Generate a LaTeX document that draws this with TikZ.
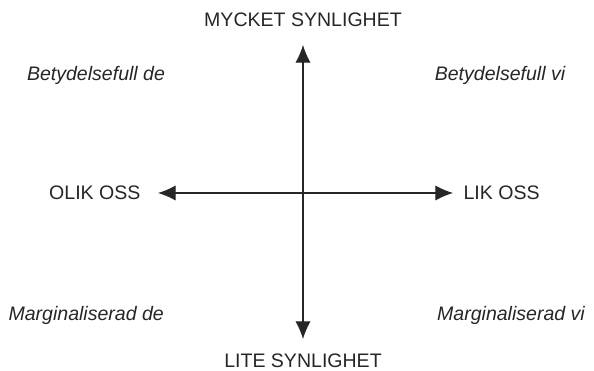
\documentclass[tikz,border=0pt]{standalone}
\usepackage{fontspec}
\setmainfont{Liberation Sans}
\usepackage{tikz}
\usetikzlibrary{arrows.meta}

\begin{document}
\begin{tikzpicture}[
    axislabel/.style={font=\fontsize{13.9}{16}\selectfont, inner sep=0pt, text=black!85},
    quadlabel/.style={font=\fontsize{13.9}{16}\selectfont\itshape, inner sep=0pt, text=black!85},
    axisline/.style={{Latex[length=4.4mm,width=3.8mm]}-{Latex[length=4.4mm,width=3.8mm]}, line width=0.8pt, black!85},
    line width = 0.8pt
    ]
    \useasboundingbox (-7.575,-4.45) rectangle (7.275,4.825);

    %Nodes
    \coordinate (top) at (0,3.7);
    \coordinate (bottom) at (0,-3.65);
    \coordinate (left) at (-3.625,0);
    \coordinate (right) at (3.75,0);

    \node[axislabel] (mycket) at (0,4.325) {MYCKET SYNLIGHET};
    \node[axislabel] (lite) at (0,-4.2) {LITE SYNLIGHET};
    \node[axislabel, anchor=east] (olik) at (-4.05,0) {OLIK OSS};
    \node[axislabel, anchor=west] (lik) at (4.0,0) {LIK OSS};

    \node[quadlabel] (betde) at (-5.175,2.95) {Betydelsefull de};
    \node[quadlabel] (betvi) at (4.925,2.95) {Betydelsefull vi};
    \node[quadlabel, anchor=west] (margde) at (-7.375,-3.05) {Marginaliserad de};
    \node[quadlabel] (margvi) at (5.2,-3.05) {Marginaliserad vi};

    %Lines
    \draw[axisline] (top) -- (bottom);
    \draw[axisline] (left) -- (right);

\end{tikzpicture}
\end{document}
